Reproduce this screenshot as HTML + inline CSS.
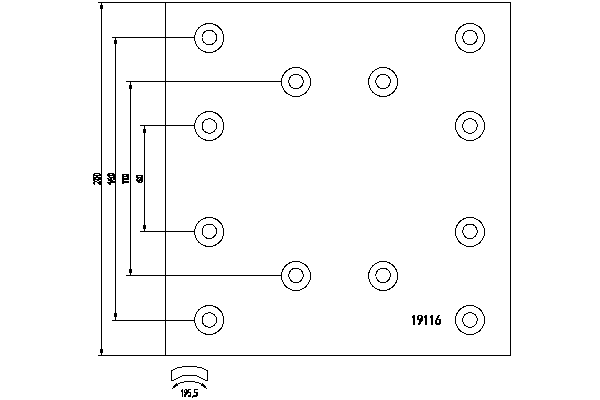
<!DOCTYPE html>
<html><head><meta charset="utf-8">
<style>
html,body{margin:0;padding:0;background:#fff;width:600px;height:400px;overflow:hidden}
svg{position:absolute;left:0;top:0}
body{font-family:"Liberation Sans",sans-serif}
</style></head>
<body>
<svg width="600" height="400" viewBox="0 0 600 400">
<g stroke="#000" stroke-width="1" fill="none" shape-rendering="crispEdges">
<path d="M98,2.5H511M98,355.5H511M510.5,2V356M165.5,2V356M101.5,2V356M115.5,37V321M130.5,81V276M144.5,125V232"/>
<path d="M112,37.5H194.5M112,320.5H194.5M126,81.5H281.5M126,275.5H281.5M140,125.5H194.5M140,231.5H194.5"/>
</g>
<g fill="#000" shape-rendering="crispEdges">
<rect x="100" y="5" width="3" height="4"/>
<rect x="100" y="349" width="3" height="4"/>
<rect x="114" y="40" width="3" height="4"/>
<rect x="114" y="313" width="3" height="4"/>
<rect x="129" y="85" width="3" height="4"/>
<rect x="129" y="269" width="3" height="4"/>
<rect x="143" y="129" width="3" height="4"/>
<rect x="143" y="225" width="3" height="4"/>
</g>
<g stroke="#000" stroke-width="1" fill="none" shape-rendering="crispEdges">
<circle cx="209.2" cy="38" r="14.5"/><circle cx="209.3" cy="37.5" r="7.3"/>
<circle cx="470" cy="38" r="14.5"/><circle cx="470" cy="37.5" r="7.3"/>
<circle cx="296" cy="82" r="14.5"/><circle cx="296" cy="81.5" r="7.3"/>
<circle cx="383.1" cy="82" r="14.5"/><circle cx="383.1" cy="81.5" r="7.3"/>
<circle cx="209.2" cy="126" r="14.5"/><circle cx="209.3" cy="126" r="7.3"/>
<circle cx="470" cy="126" r="14.5"/><circle cx="470" cy="126" r="7.3"/>
<circle cx="209.2" cy="232" r="14.5"/><circle cx="209.3" cy="231.3" r="7.3"/>
<circle cx="470" cy="232" r="14.5"/><circle cx="470" cy="231.3" r="7.3"/>
<circle cx="296" cy="276" r="14.5"/><circle cx="296" cy="275.4" r="7.3"/>
<circle cx="383.1" cy="276" r="14.5"/><circle cx="383.1" cy="275.4" r="7.3"/>
<circle cx="209.2" cy="320" r="14.5"/><circle cx="209.3" cy="320" r="7.3"/>
<circle cx="470" cy="320" r="14.5"/><circle cx="470" cy="320" r="7.3"/>
</g>
<!-- shoe icon -->
<path fill="#000" shape-rendering="crispEdges" d="M182,366h15v1h-15zM177,367h5v1h-5zM197,367h5v1h-5zM175,368h2v1h-2zM202,368h2v1h-2zM173,369h2v1h-2zM204,369h2v1h-2zM171,370h2v1h-2zM206,370h2v1h-2zM171,371h1v1h-1zM207,371h1v1h-1zM171,372h1v1h-1zM207,372h1v1h-1zM171,373h1v1h-1zM207,373h1v1h-1zM171,374h1v1h-1zM207,374h1v1h-1zM171,375h1v1h-1zM182,375h15v1h-15zM207,375h1v1h-1zM171,376h1v1h-1zM180,376h2v1h-2zM197,376h2v1h-2zM207,376h1v1h-1zM171,377h1v1h-1zM178,377h2v1h-2zM199,377h2v1h-2zM207,377h1v1h-1zM171,378h1v1h-1zM176,378h2v1h-2zM201,378h2v1h-2zM207,378h1v1h-1zM171,379h1v1h-1zM174,379h2v1h-2zM203,379h2v1h-2zM207,379h1v1h-1zM171,380h3v1h-3zM205,380h3v1h-3zM184,381h11v1h-11zM180,382h4v1h-4zM195,382h4v1h-4zM176,383h1v1h-1zM178,383h2v1h-2zM199,383h2v1h-2zM202,383h1v1h-1zM175,384h3v1h-3zM201,384h3v1h-3zM174,385h4v1h-4zM201,385h4v1h-4zM173,386h3v1h-3zM203,386h3v1h-3zM173,387h2v1h-2zM204,387h2v1h-2zM172,388h1v1h-1zM206,388h1v1h-1z"/>
<!-- 195,5 -->
<path fill="#000" shape-rendering="crispEdges" d="M182,389h1v1h-1zM185,389h2v1h-2zM188,389h3v1h-3zM194,389h4v1h-4zM181,390h2v1h-2zM184,390h1v1h-1zM186,390h3v1h-3zM194,390h1v1h-1zM181,391h2v1h-2zM184,391h1v1h-1zM186,391h3v1h-3zM194,391h1v1h-1zM182,392h1v1h-1zM184,392h7v1h-7zM194,392h4v1h-4zM182,393h1v1h-1zM185,393h3v1h-3zM190,393h1v1h-1zM196,393h2v1h-2zM182,394h1v1h-1zM184,394h3v1h-3zM190,394h1v1h-1zM196,394h2v1h-2zM182,395h1v1h-1zM184,395h2v1h-2zM188,395h3v1h-3zM193,395h5v1h-5zM182,396h1v1h-1zM184,396h2v1h-2zM188,396h3v1h-3zM192,396h5v1h-5zM192,397h1v1h-1z"/>
<!-- 19116 -->
<path fill="#000" shape-rendering="crispEdges" d="M413,315h2v1h-2zM418,315h4v1h-4zM425,315h2v1h-2zM431,315h2v1h-2zM438,315h2v1h-2zM412,316h3v1h-3zM417,316h2v1h-2zM421,316h2v1h-2zM424,316h3v1h-3zM430,316h3v1h-3zM437,316h2v1h-2zM412,317h3v1h-3zM417,317h2v1h-2zM421,317h2v1h-2zM424,317h3v1h-3zM430,317h3v1h-3zM437,317h2v1h-2zM413,318h2v1h-2zM417,318h2v1h-2zM420,318h3v1h-3zM425,318h2v1h-2zM431,318h2v1h-2zM436,318h2v1h-2zM413,319h2v1h-2zM417,319h6v1h-6zM425,319h2v1h-2zM431,319h2v1h-2zM436,319h5v1h-5zM413,320h2v1h-2zM419,320h4v1h-4zM425,320h2v1h-2zM431,320h2v1h-2zM435,320h2v1h-2zM439,320h2v1h-2zM413,321h2v1h-2zM419,321h3v1h-3zM425,321h2v1h-2zM431,321h2v1h-2zM435,321h2v1h-2zM439,321h2v1h-2zM413,322h2v1h-2zM419,322h2v1h-2zM425,322h2v1h-2zM431,322h2v1h-2zM435,322h2v1h-2zM439,322h2v1h-2zM413,323h2v1h-2zM418,323h3v1h-3zM425,323h2v1h-2zM431,323h2v1h-2zM435,323h6v1h-6zM413,324h2v1h-2zM418,324h2v1h-2zM425,324h2v1h-2zM431,324h2v1h-2zM436,324h4v1h-4z"/>
<!-- rotated labels -->
<path fill="#000" shape-rendering="crispEdges" d="M94,173h6v1h-6zM108,173h6v1h-6zM93,174h2v1h-2zM99,174h2v1h-2zM107,174h3v1h-3zM112,174h3v1h-3zM122,174h7v1h-7zM93,175h8v1h-8zM107,175h8v1h-8zM122,175h2v1h-2zM126,175h3v1h-3zM136,175h7v1h-7zM93,176h1v1h-1zM96,176h2v1h-2zM108,176h2v1h-2zM113,176h2v1h-2zM122,176h7v1h-7zM136,176h2v1h-2zM141,176h2v1h-2zM93,177h8v1h-8zM109,177h6v1h-6zM122,177h2v1h-2zM127,177h2v1h-2zM136,177h7v1h-7zM93,178h3v1h-3zM98,178h3v1h-3zM107,178h2v1h-2zM110,178h2v1h-2zM113,178h2v1h-2zM122,178h7v1h-7zM137,178h2v1h-2zM140,178h3v1h-3zM93,179h8v1h-8zM108,179h4v1h-4zM113,179h2v1h-2zM122,179h7v1h-7zM136,179h2v1h-2zM139,179h4v1h-4zM93,180h2v1h-2zM97,180h2v1h-2zM108,180h5v1h-5zM122,180h2v1h-2zM136,180h7v1h-7zM94,181h3v1h-3zM99,181h2v1h-2zM110,181h5v1h-5zM122,181h7v1h-7zM137,181h3v1h-3zM141,181h2v1h-2zM93,182h2v1h-2zM97,182h4v1h-4zM107,182h8v1h-8zM122,182h7v1h-7zM138,182h4v1h-4zM93,183h2v1h-2zM98,183h3v1h-3zM108,183h3v1h-3zM122,183h2v1h-2zM94,184h1v1h-1zM99,184h2v1h-2zM109,184h2v1h-2z"/>
</svg>
</body></html>
